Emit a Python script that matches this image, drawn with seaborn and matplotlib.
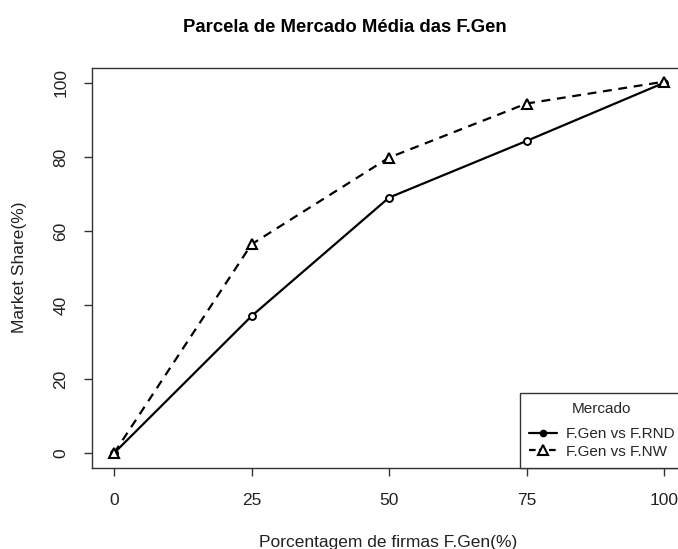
import pandas as pd
import seaborn as sns
import matplotlib.pyplot as plt
from matplotlib.lines import Line2D

# Dados
porcentagem = [0, 25, 50, 75, 100]
share_rnd = [0, 37.0, 69.0, 84.3, 100]
share_nw = [0, 56.4, 79.8, 94.4, 100.3]
x_ticks = [0, 25, 50, 75, 100]
y_ticks = [0, 20, 40, 60, 80, 100]
nomes = ['F.Gen vs F.RND', 'F.Gen vs F.NW']

df = pd.DataFrame({
    'Porcentagem': porcentagem * 2,
    'Share': share_rnd + share_nw,
    'Mercado': [nomes[0]] * len(share_rnd) + [nomes[1]] * len(share_nw),
})

sns.set_style('white')
plt.rcParams['font.family'] = ['Liberation Sans', 'DejaVu Sans']

W, H = 678, 549
fig = plt.figure(figsize=(W / 100, H / 100), dpi=100)
ax = fig.add_axes([92 / W, (H - 468) / H, (686 - 92) / W, (468 - 68) / H])

sub = df[df['Mercado'] == nomes[0]]
sns.lineplot(data=sub, x='Porcentagem', y='Share', ax=ax, color='black', lw=1.6,
             marker='o', markersize=5, markerfacecolor='white',
             markeredgecolor='black', markeredgewidth=1.4)
sub = df[df['Mercado'] == nomes[1]]
sns.lineplot(data=sub, x='Porcentagem', y='Share', ax=ax, color='black', lw=1.6,
             marker='^', markersize=7, markerfacecolor='white',
             markeredgecolor='black', markeredgewidth=1.5)
ax.lines[1].set_dashes((4, 3))

ax.set_xlim(-4, 104)
ax.set_ylim(-4, 104)
ax.set_xticks(x_ticks)
ax.set_yticks(y_ticks)
ax.set_yticklabels([str(v) for v in y_ticks], rotation=90, va='center')
ax.tick_params(axis='both', direction='out', length=6, width=1, color='#333333',
               labelsize=12.5, labelcolor='#222222', bottom=True, left=True)
ax.tick_params(axis='x', pad=12)
ax.tick_params(axis='y', pad=11)
ax.set_xlabel('')
ax.set_ylabel('')
for s in ax.spines.values():
    s.set_color('#333333')
    s.set_linewidth(1)

fig.text(388 / W, 1 - 543 / H, 'Porcentagem de firmas F.Gen(%)', ha='center', va='center',
         fontsize=12.5, color='#222222')
fig.text(20 / W, 1 - 267 / H, 'Market Share(%)', ha='center', va='center', rotation=90,
         fontsize=12.5, color='#222222')
fig.text(345 / W, 1 - 27 / H, 'Parcela de Mercado Média das F.Gen', ha='center', va='center',
         fontsize=13.3, fontweight='bold', color='black')

# Legenda no estilo do R
handles = [
    Line2D([], [], color='black', lw=1.6, marker='o', markersize=4.5),
    Line2D([], [], color='black', lw=1.6, marker='^', markersize=6.5,
           markerfacecolor='white', markeredgewidth=1.5, dashes=(3, 1.5)),
]
leg = ax.legend(handles, nomes, title='Mercado', loc='lower left',
                bbox_to_anchor=((520 - 92) / 594, 0), borderaxespad=0,
                fancybox=False, framealpha=1, edgecolor='#333333', fontsize=11,
                title_fontsize=11, handlelength=1.8, handletextpad=0.6,
                labelspacing=0.25, borderpad=0.6)
leg.get_frame().set_linewidth(1)
leg._legend_box.sep = 8

fig.savefig('out.png', dpi=100)
